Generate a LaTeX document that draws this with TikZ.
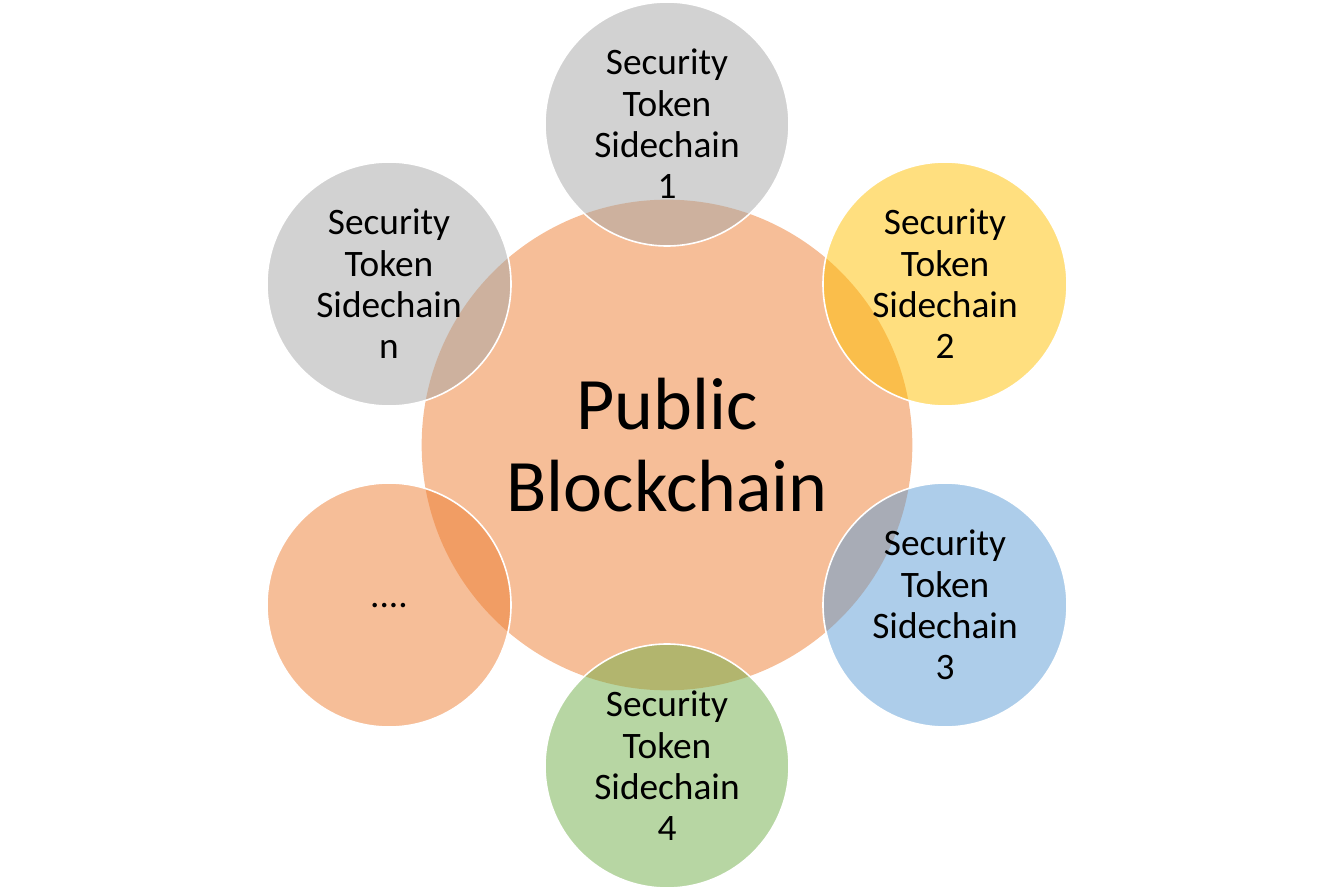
\documentclass[tikz,border=0pt]{standalone}
\usepackage{fontspec}
\setmainfont{Carlito}
\definecolor{hubcol}{HTML}{ED7D31}
\definecolor{greycol}{HTML}{A5A5A5}
\definecolor{goldcol}{HTML}{FFC000}
\definecolor{bluecol}{HTML}{5B9BD5}
\definecolor{greencol}{HTML}{70AD47}
\tikzset{
  bubble/.style={circle, minimum size=183pt, inner sep=0pt, draw=white, line width=1.2pt,
    fill opacity=.5, text opacity=1, align=center,
    font=\fontsize{28}{31}\selectfont},
  hubbubble/.style={circle, minimum size=368pt, inner sep=0pt, fill=hubcol, fill opacity=.5,
    text opacity=1, align=center, font=\fontsize{55.5}{62}\selectfont}
}

\begin{document}
\begin{tikzpicture}[x=.75pt, y=-.75pt]
  \useasboundingbox (0,0) rectangle (1334,891);
  \node [hubbubble] (hub) at (667,445) {Public\\Blockchain};
  % sidechains around the hub
  \node [bubble, fill=greycol]  (sc1)    at (667,124) {Security\\Token\\Sidechain\\1};
  \node [bubble, fill=goldcol]  (sc2)    at (945,284) {Security\\Token\\Sidechain\\2};
  \node [bubble, fill=bluecol]  (sc3)    at (945,605) {Security\\Token\\Sidechain\\3};
  \node [bubble, fill=greencol] (sc4)    at (667,766) {Security\\Token\\Sidechain\\4};
  \node [bubble, fill=hubcol]   (scdots) at (389,605) {\raisebox{-4pt}{....}};
  \node [bubble, fill=greycol]  (scn)    at (389,284) {Security\\Token\\Sidechain\\n};
\end{tikzpicture}
\end{document}
